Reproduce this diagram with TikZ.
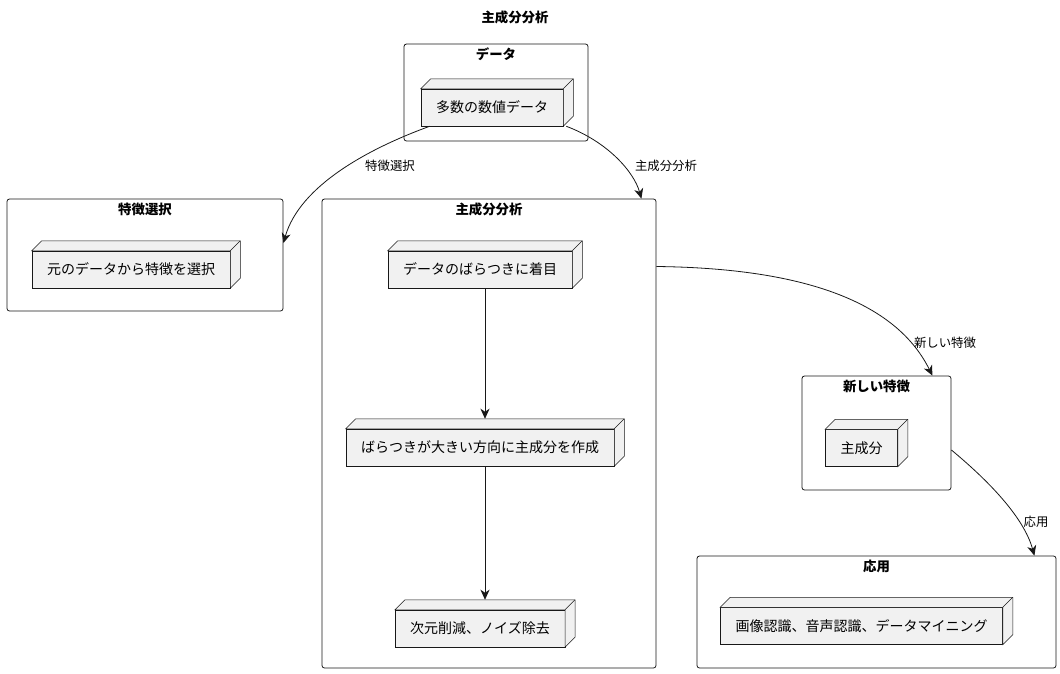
\documentclass[tikz,border=0pt]{standalone}
\usepackage{fontspec}
\setmainfont{Noto Sans CJK JP}
\usetikzlibrary{positioning}
\usetikzlibrary{calc}
\usetikzlibrary{arrows.meta}
\definecolor{boxfill}{HTML}{F1F1F1}
\definecolor{linegray}{HTML}{181818}

\begin{document}
\begin{tikzpicture}[x=1pt,y=-1pt,
frame_style/.style={draw=linegray,line width=0.8pt,rounded corners=2.5pt,inner sep=0pt},
box_style/.style={draw=linegray,fill=boxfill,line width=0.5pt,inner xsep=15pt,inner ysep=0pt,
  minimum height=37pt,font=\fontsize{14}{16}\selectfont},
box_side/.style={draw=linegray,fill=boxfill,line width=0.5pt},
title_style/.style={inner sep=0pt,font=\bfseries\fontsize{13.4}{16}\selectfont},
label_style/.style={inner sep=0pt,font=\fontsize{12.4}{15}\selectfont},
edge_style/.style={draw=linegray,line width=0.8pt,-{Stealth[length=10pt,width=9pt,inset=3pt]}}]

\useasboundingbox (0,0) rectangle (1060,673);

\node[title_style] (t_main) at (515,17) {主成分分析};

% frames
\node[frame_style,minimum width=184pt,minimum height=97pt] (f_data) at (496,92.5) {};
\node[frame_style,minimum width=276pt,minimum height=112pt] (f_select) at (145,255) {};
\node[frame_style,minimum width=334pt,minimum height=469pt] (f_pca) at (489,433.5) {};
\node[frame_style,minimum width=149pt,minimum height=114pt] (f_new) at (876.5,433) {};
\node[frame_style,minimum width=359pt,minimum height=112pt] (f_app) at (876.5,612) {};

\node[title_style,below=4pt of f_data.north] (t_data) {データ};
\node[title_style,below=4pt of f_select.north] (t_select) {特徴選択};
\node[title_style,below=4pt of f_pca.north] (t_pca) {主成分分析};
\node[title_style,below=4pt of f_new.north] (t_new) {新しい特徴};
\node[title_style,below=4pt of f_app.north] (t_app) {応用};

% boxes
\node[box_style] (n_data) at (492,107.5) {多数の数値データ};
\node[box_style] (n_orig) at (131,269.5) {元のデータから特徴を選択};
\node[box_style] (n_focus) at (480,269.5) {データのばらつきに着目};
\node[box_style] (n_make) at (480,447.5) {ばらつきが大きい方向に主成分を作成};
\node[box_style] (n_reduce) at (480,628.5) {次元削減、ノイズ除去};
\node[box_style] (n_pc) at (861.5,448) {主成分};
\node[box_style] (n_uses) at (861.5,626) {画像認識、音声認識、データマイニング};

\foreach \n in {n_data,n_orig,n_focus,n_make,n_reduce,n_pc,n_uses}{
 \filldraw[box_side] (\n.north west) -- ++(10,-10) -- ($(\n.north east)+(10,-10)$)
   -- ($(\n.south east)+(10,-10)$) -- (\n.south east) -- (\n.north east) -- cycle;
 \draw[box_side] (\n.north east) -- ++(10,-10);
}

% connectors
\draw[edge_style] ([xshift=9pt]n_data.south west) .. controls (370,148) and (300,185) .. ([yshift=12pt]f_select.east);
\draw[edge_style] ([xshift=3pt]n_data.south east) .. controls (608,142) and (634,172) .. ([xshift=-15pt]f_pca.north east);
\draw[edge_style] ([yshift=167pt]f_pca.east) .. controls (790,268) and (893,296) .. ([xshift=-19pt]f_new.north east);
\draw[edge_style] ([yshift=-17pt]f_new.east) .. controls (990,482) and (1024,518) .. ([xshift=-22pt]f_app.north east);

\draw[edge_style] ([xshift=5pt]n_focus.south) -- ([xshift=5pt,yshift=10pt]n_make.north);
\draw[edge_style] ([xshift=5pt]n_make.south) -- ([xshift=5pt,yshift=10pt]n_reduce.north);

\node[label_style] (l_select) at (390,166) {特徴選択};
\node[label_style] (l_pca) at (666,166) {主成分分析};
\node[label_style] (l_new) at (945,343) {新しい特徴};
\node[label_style] (l_app) at (1036,522) {応用};
\end{tikzpicture}
\end{document}
